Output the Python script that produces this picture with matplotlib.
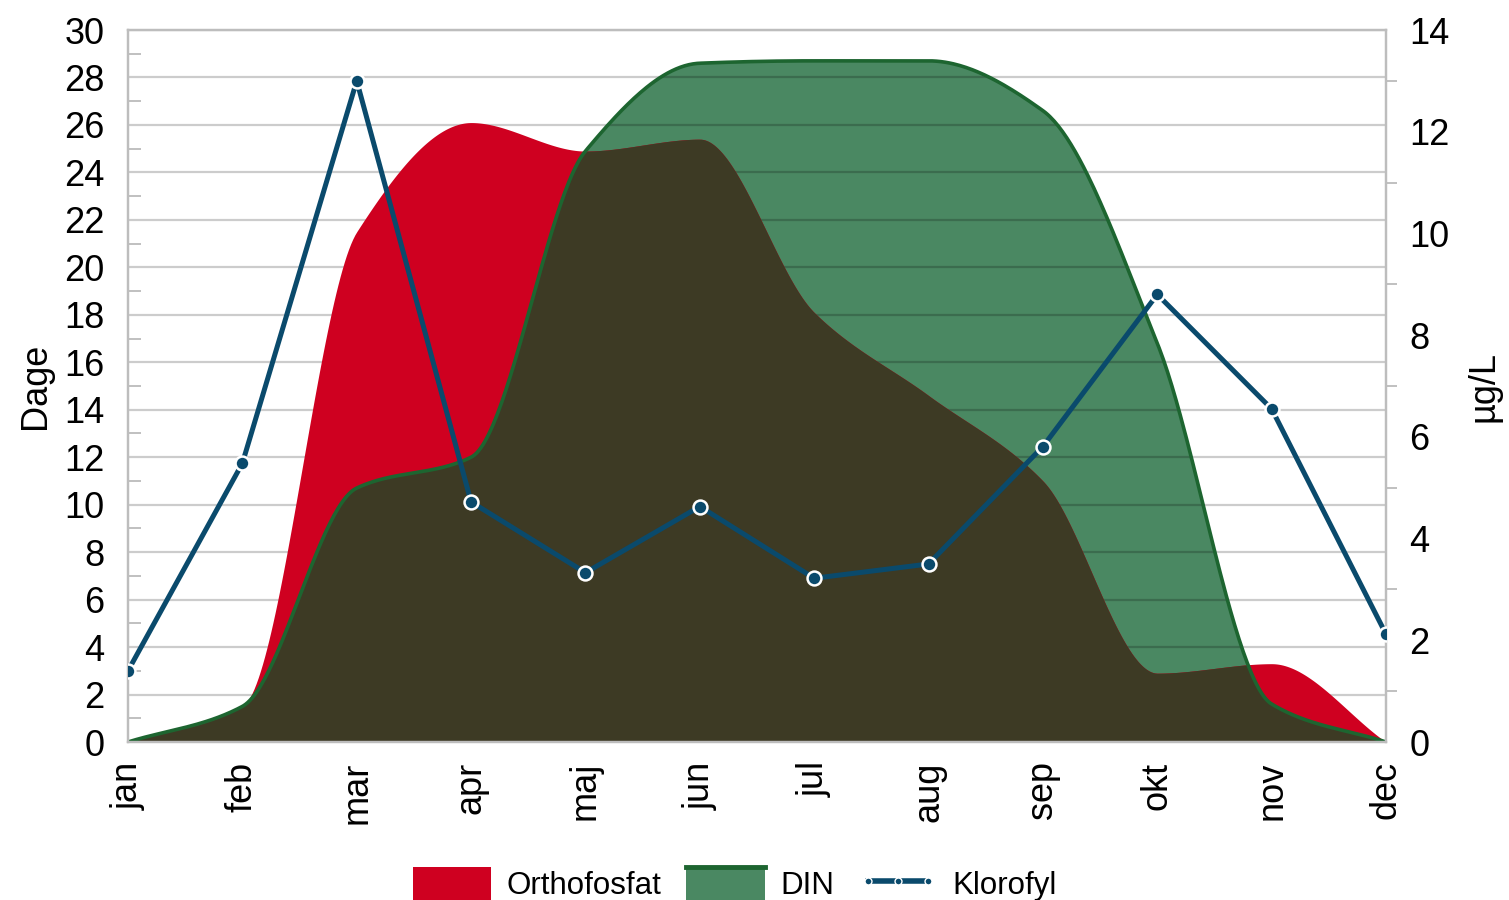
import numpy as np
import matplotlib
matplotlib.use('Agg')
import matplotlib.pyplot as plt
from matplotlib.patches import Rectangle, Patch
from matplotlib.lines import Line2D
from matplotlib.legend_handler import HandlerBase
from matplotlib.ticker import MultipleLocator

plt.rcParams['font.family'] = ['Liberation Sans', 'DejaVu Sans']

months = ['jan', 'feb', 'mar', 'apr', 'maj', 'jun', 'jul', 'aug', 'sep', 'okt', 'nov', 'dec']
orthofosfat = [0, 1.5, 21.5, 26.1, 24.9, 25.4, 18.1, 14.6, 11.0, 2.9, 3.3, 0]
din = [0, 1.5, 10.7, 12.0, 24.9, 28.6, 28.7, 28.7, 26.6, 16.8, 1.6, 0]
klorofyl = [1.40, 5.48, 13.0, 4.72, 3.33, 4.63, 3.22, 3.50, 5.81, 8.80, 6.55, 2.12]

RED = '#cf0020'
GREEN = '#4a8862'
GREEN_EDGE = '#1d6530'
DARK = '#3d3a24'
BLUE = '#0a4a6c'


def smooth(x, y, n=600):
    # monotone cubic (pchip-like) so the areas look like the spreadsheet's smoothed lines
    x = np.asarray(x, float)
    y = np.asarray(y, float)
    h = np.diff(x)
    d = np.diff(y) / h
    m = np.zeros_like(y)
    m[0], m[-1] = d[0], d[-1]
    for k in range(1, len(y) - 1):
        if d[k - 1] * d[k] > 0:
            w1 = 2 * h[k] + h[k - 1]
            w2 = h[k] + 2 * h[k - 1]
            m[k] = (w1 + w2) / (w1 / d[k - 1] + w2 / d[k])
    xs = np.linspace(x[0], x[-1], n)
    idx = np.clip(np.searchsorted(x, xs, side='right') - 1, 0, len(x) - 2)
    t = (xs - x[idx]) / h[idx]
    h00 = 2 * t**3 - 3 * t**2 + 1
    h10 = t**3 - 2 * t**2 + t
    h01 = -2 * t**3 + 3 * t**2
    h11 = t**3 - t**2
    ys = h00 * y[idx] + h10 * h[idx] * m[idx] + h01 * y[idx + 1] + h11 * h[idx] * m[idx + 1]
    return xs, ys


class PatchTopLine(HandlerBase):
    def create_artists(self, legend, orig_handle, xdescent, ydescent, width, height, fontsize, trans):
        r = Rectangle((-xdescent, -ydescent), width, height, facecolor=GREEN,
                      edgecolor='none', transform=trans)
        l = Line2D([-xdescent, -xdescent + width], [-ydescent + height] * 2,
                   color=GREEN_EDGE, lw=3.5, transform=trans)
        return [r, l]


x = np.arange(len(months))
xs, red_s = smooth(x, orthofosfat)
_, din_s = smooth(x, din)
red_s = np.clip(red_s, 0, None)
din_s = np.clip(din_s, 0, None)
overlap = np.minimum(red_s, din_s)

fig = plt.figure(figsize=(15.09, 9.0), dpi=100)
ax = fig.add_axes([128 / 1509, 1 - 742 / 900, (1386 - 128) / 1509, 712 / 900])

ax.fill_between(xs, 0, din_s, color=GREEN, lw=0, zorder=1)
# gridlines sit above the green area only (they show through it darker)
for v in range(2, 31, 2):
    ax.axhline(v, color='black', alpha=0.2, lw=1.6, zorder=1.5)
ax.fill_between(xs, 0, red_s, color=RED, lw=0, zorder=2)
ax.fill_between(xs, 0, overlap, color=DARK, lw=0, zorder=2.2)
ax.plot(xs, din_s, color=GREEN_EDGE, lw=2.6, zorder=2.3, solid_capstyle='butt')

ax.set_xlim(0, 11)
ax.set_ylim(0, 30)
ax.yaxis.set_major_locator(MultipleLocator(2))
ax.yaxis.set_minor_locator(MultipleLocator(1))
ax.set_xticks(x)
ax.set_xticklabels(months, rotation=90, fontsize=26)
ax.tick_params(axis='x', length=0, pad=14)
ax.tick_params(axis='y', which='major', length=0, pad=17, labelsize=26)
ax.tick_params(axis='y', which='minor', direction='in', length=9, width=1.2, color='#b5b5b5')
ax.set_ylabel('Dage', fontsize=26, labelpad=8)
for s in ax.spines.values():
    s.set_color('#bdbdbd')
    s.set_linewidth(1.6)

ax2 = ax.twinx()
ax2.plot(x, klorofyl, color=BLUE, lw=3.6, marker='o', markersize=10,
         markerfacecolor=BLUE, markeredgecolor='white', markeredgewidth=1.8, zorder=5)
ax2.set_ylim(0, 14)
ax2.yaxis.set_major_locator(MultipleLocator(2))
ax2.yaxis.set_minor_locator(MultipleLocator(1))
ax2.tick_params(axis='y', which='major', length=0, pad=17, labelsize=26)
ax2.tick_params(axis='y', which='minor', direction='out', length=8, width=1.2, color='#b5b5b5')
ax2.set_ylabel('µg/L', fontsize=26, labelpad=12)
for s in ax2.spines.values():
    s.set_color('#bdbdbd')
    s.set_linewidth(1.6)

handles = [
    Patch(facecolor=RED, edgecolor='none'),
    Patch(facecolor=GREEN),
    Line2D([], [], color=BLUE, lw=4, marker='o', markersize=5,
           markerfacecolor=BLUE, markeredgecolor='white', markeredgewidth=1),
]
fig.legend(handles, ['Orthofosfat', 'DIN', 'Klorofyl'], loc='center',
           bbox_to_anchor=(735 / 1509, 1 - 884 / 900), ncol=3, frameon=False,
           fontsize=22.5, handlelength=2.5, handleheight=1.25, handletextpad=0.5,
           columnspacing=0.8, numpoints=3,
           handler_map={handles[1]: PatchTopLine()})

fig.savefig('out.png', dpi=100)
